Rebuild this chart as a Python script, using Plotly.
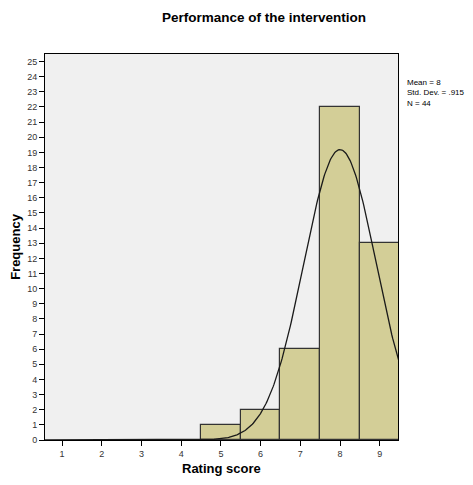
import numpy as np
import plotly.graph_objects as go

ratings = [5, 6, 7, 8, 9]
frequencies = [1, 2, 6, 22, 13]
x_ticks = [1, 2, 3, 4, 5, 6, 7, 8, 9]
y_ticks = list(range(0, 26))
mean_val = 8.0
std_val = 0.915
n_val = 44

xs = np.linspace(0.5, 9.6, 400)
ys = n_val * 1.0 * np.exp(-0.5 * ((xs - mean_val) / std_val) ** 2) / (std_val * np.sqrt(2 * np.pi))

font = "Liberation Sans, Arial, sans-serif"
# page body has an 8px default margin on every side; shrink the figure so it fits the window
off = 8
W, H = 473 - 2 * off, 485 - 2 * off
fig = go.Figure()
fig.add_trace(go.Bar(x=ratings, y=frequencies, width=1.0,
                     marker=dict(color="#D3CE97", line=dict(color="#333333", width=1.2)),
                     hoverinfo="skip"))
fig.add_trace(go.Scatter(x=xs, y=ys, mode="lines", line=dict(color="#1a1a1a", width=1.3),
                         hoverinfo="skip"))

fig.update_layout(
    width=W, height=H,
    margin=dict(l=45 - off, r=75 - off, t=54 - off, b=45 - off),
    paper_bgcolor="white", plot_bgcolor="#F0F0F0",
    showlegend=False, bargap=0,
    font=dict(family=font, size=9, color="#333333"),
    title=dict(text="<b>Performance of the intervention</b>", x=(264 - off) / W, xanchor="center",
               y=1 - (17 - off) / H, yanchor="middle",
               font=dict(family=font, size=13.5, color="#000000")),
    annotations=[
        dict(text="Mean = 8<br>Std. Dev. = .915<br>N = 44", xref="paper", yref="paper",
             x=1.0, y=1 - 22 / 386, xanchor="left", yanchor="top", xshift=7,
             showarrow=False, align="left",
             font=dict(family=font, size=8, color="#000000")),
        dict(text="<b>Rating score</b>", xref="paper", yref="paper", x=0.5, y=0,
             xanchor="center", yanchor="middle", yshift=-28, showarrow=False,
             font=dict(family=font, size=13, color="#000000")),
    ],
)
fig.update_xaxes(range=[0.57, 9.46], tickvals=x_ticks, ticks="outside", ticklen=5, tickcolor="#000000",
                 showgrid=False, zeroline=False, showline=True, linecolor="#000000", linewidth=1,
                 mirror=True, automargin=False)
fig.update_yaxes(range=[0, 25.5], tickvals=y_ticks, ticks="outside", ticklen=5, tickcolor="#000000",
                 showgrid=False, zeroline=False, showline=True, linecolor="#000000", linewidth=1,
                 mirror=True, automargin=False,
                 title=dict(text="<b>Frequency</b>", font=dict(family=font, size=13, color="#000000"),
                            standoff=8))

fig.write_html("out.html")
